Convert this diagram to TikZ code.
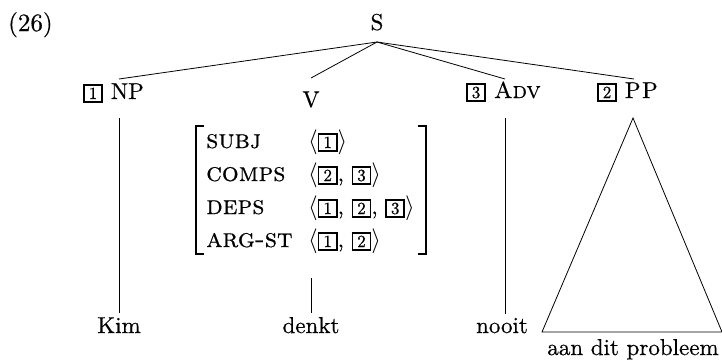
\documentclass[tikz,border=0pt]{standalone}
\usepackage{fontspec}
\setmainfont{lmroman10-regular.otf}[FakeBold=0.5]
\newfontfamily\scfont{lmromancaps10-regular.otf}[FakeBold=0.5]
% boxed structure-sharing tag
\newcommand\tagnum[1]{{\setlength\fboxrule{1.6pt}\setlength\fboxsep{2pt}\fbox{\makebox[12.5pt]{\fontsize{17}{17}\selectfont #1}}}}
% feature names in small capitals
\newcommand\featname[1]{{\fontsize{26.5}{30}\scfont #1}}
\begin{document}
\begin{tikzpicture}[x=1pt,y=-1pt,
  every node/.style={inner sep=0pt, font=\fontsize{23}{28}\selectfont},
  word/.style={anchor=base, outer sep=4pt},
  branch/.style={line width=0.8pt},
  avmbracket/.style={line width=2.2pt}]
\useasboundingbox (0,0) rectangle (722,360);

% example number and root
\node[anchor=base west] (ex) at (8,31) {\fontsize{25}{30}\selectfont(26)};
\node[anchor=base] (s) at (377,30) {S};
\coordinate (sroot) at (377,42);

% daughters
\node[anchor=base west] (np) at (83,99) {\tagnum{1}\hspace{8pt}NP};
\node[anchor=base] (v) at (311,107) {V};
\node[anchor=base west] (adv) at (466,98) {\tagnum{3}\hspace{8pt}{\scfont Adv}};
\node[anchor=base west] (pp) at (597,98) {\tagnum{2}\hspace{8pt}P\kern1.5pt P};

\coordinate (npup) at (119,79);
\coordinate (npdown) at (119,118);
\coordinate (vup) at (311,78);
\coordinate (advup) at (505,79);
\coordinate (advdown) at (505,118);
\coordinate (ppup) at (634,79);
\coordinate (ppapex) at (633,118);
\coordinate (ppleft) at (542,332);
\coordinate (ppright) at (722,332);

\draw[branch] (sroot) -- (npup);
\draw[branch] (sroot) -- (vup);
\draw[branch] (sroot) -- (advup);
\draw[branch] (sroot) -- (ppup);

% feature structure of the verb
\node[minimum width=229pt, minimum height=128pt] (avm) at (311,190) {};
\draw[avmbracket] ([xshift=8pt]avm.north west) -- (avm.north west) -- (avm.south west) -- ([xshift=8pt]avm.south west);
\draw[avmbracket] ([xshift=-8pt]avm.north east) -- (avm.north east) -- (avm.south east) -- ([xshift=-8pt]avm.south east);

\node[anchor=base west] (subj) at (206,148) {\featname{subj}};
\node[anchor=base west] (comps) at (206,181) {\featname{comps}};
\node[anchor=base west] (deps) at (206,214) {\featname{deps}};
\node[anchor=base west] (argst) at (206,247) {\featname{arg-st}};

\node[anchor=base west] (subjv) at (308,148) {$\langle$\tagnum{1}$\rangle$};
\node[anchor=base west] (compsv) at (308,181) {$\langle$\tagnum{2}, \tagnum{3}$\rangle$};
\node[anchor=base west] (depsv) at (308,214) {$\langle$\tagnum{1}, \tagnum{2}, \tagnum{3}$\rangle$};
\node[anchor=base west] (argstv) at (308,247) {$\langle$\tagnum{1}, \tagnum{2}$\rangle$};

% words
\node[word] (kim) at (119,333) {Kim};
\node[word] (denkt) at (311,333) {denkt};
\node[word] (nooit) at (502,333) {nooit};
\node[anchor=base] (aan) at (633,355) {aan dit probleem};

\draw[branch] (npdown) -- (npdown |- kim.north);
\draw[branch] ([yshift=-24pt]avm.south) -- (denkt.north);
\draw[branch] (advdown) -- (advdown |- nooit.north);
\draw[branch] (ppapex) -- (ppleft) -- (ppright) -- cycle;
\end{tikzpicture}
\end{document}
